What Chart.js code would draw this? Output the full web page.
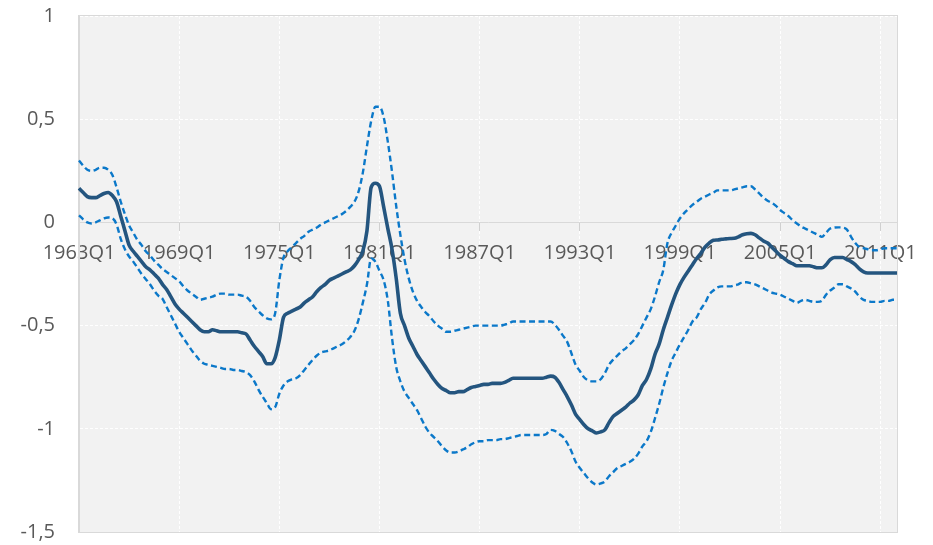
<!DOCTYPE html>
<html>
<head>
<meta charset="utf-8">
<title>Chart</title>
<script src="https://cdn.jsdelivr.net/npm/chart.js@4"></script>
<style>
    html, body { margin: 0; padding: 0; background: #ffffff; }
    #wrap { position: relative; width: 933px; height: 545px; overflow: hidden; }
    /* the canvas is a bit taller than the window so the plot area lands where it should */
    #inner { position: absolute; left: 0; top: -20px; width: 933px; height: 588px; }
</style>
</head>
<body>
<div id="wrap"><div id="inner"><canvas id="chart"></canvas></div></div>
<script>

// quarterly series, 1963Q1 .. 2012Q1 (one row = one year)
const midLine = [
    0.165, 0.145, 0.125, 0.12,
    0.12, 0.13, 0.14, 0.145,
    0.13, 0.10, 0.03, -0.04,
    -0.11, -0.14, -0.165, -0.19,
    -0.215, -0.23, -0.25, -0.27,
    -0.30, -0.325, -0.36, -0.395,
    -0.42, -0.44, -0.46, -0.48,
    -0.50, -0.52, -0.53, -0.53,
    -0.52, -0.525, -0.53, -0.53,
    -0.53, -0.53, -0.53, -0.535,
    -0.54, -0.57, -0.60, -0.625,
    -0.65, -0.685, -0.685, -0.655,
    -0.57, -0.46, -0.44, -0.43,
    -0.42, -0.41, -0.39, -0.375,
    -0.36, -0.335, -0.315, -0.30,
    -0.28, -0.27, -0.26, -0.25,
    -0.24, -0.23, -0.21, -0.18,
    -0.14, -0.04, 0.17, 0.19,
    0.175, 0.075, -0.03, -0.13,
    -0.27, -0.44, -0.50, -0.56,
    -0.60, -0.64, -0.67, -0.70,
    -0.73, -0.76, -0.785, -0.805,
    -0.815, -0.825, -0.825, -0.82,
    -0.82, -0.81, -0.80, -0.795,
    -0.79, -0.785, -0.785, -0.78,
    -0.78, -0.78, -0.775, -0.765,
    -0.755, -0.755, -0.755, -0.755,
    -0.755, -0.755, -0.755, -0.755,
    -0.75, -0.745, -0.75, -0.775,
    -0.81, -0.845, -0.885, -0.93,
    -0.955, -0.98, -1.0, -1.01,
    -1.02, -1.015, -1.005, -0.97,
    -0.94, -0.925, -0.91, -0.895,
    -0.875, -0.86, -0.835, -0.79,
    -0.76, -0.71, -0.64, -0.59,
    -0.52, -0.46, -0.40, -0.345,
    -0.30, -0.265, -0.235, -0.205,
    -0.175, -0.15, -0.12, -0.10,
    -0.087, -0.085, -0.082, -0.08,
    -0.078, -0.077, -0.07, -0.06,
    -0.055, -0.053, -0.06, -0.075,
    -0.09, -0.10, -0.12, -0.14,
    -0.16, -0.175, -0.19, -0.20,
    -0.21, -0.21, -0.21, -0.21,
    -0.215, -0.22, -0.22, -0.205,
    -0.18, -0.17, -0.17, -0.17,
    -0.18, -0.19, -0.205, -0.225,
    -0.24, -0.245, -0.245, -0.245,
    -0.245, -0.245, -0.245, -0.245,
    -0.245
];

const upperBand = [
    0.30, 0.275, 0.255, 0.25,
    0.255, 0.265, 0.265, 0.255,
    0.23, 0.17, 0.10, 0.04,
    -0.015, -0.05, -0.085, -0.11,
    -0.14, -0.16, -0.185, -0.205,
    -0.225, -0.24, -0.255, -0.27,
    -0.285, -0.31, -0.33, -0.345,
    -0.36, -0.375, -0.37, -0.365,
    -0.36, -0.35, -0.345, -0.345,
    -0.35, -0.35, -0.35, -0.355,
    -0.36, -0.38, -0.41, -0.43,
    -0.45, -0.465, -0.47, -0.44,
    -0.28, -0.17, -0.14, -0.12,
    -0.10, -0.08, -0.065, -0.045,
    -0.035, -0.025, -0.01, 0.0,
    0.01, 0.02, 0.03, 0.04,
    0.055, 0.075, 0.10, 0.15,
    0.24, 0.37, 0.49, 0.56,
    0.56, 0.51, 0.39, 0.245,
    0.08, -0.06, -0.18, -0.27,
    -0.335, -0.38, -0.41, -0.435,
    -0.455, -0.48, -0.50, -0.515,
    -0.53, -0.53, -0.525, -0.52,
    -0.515, -0.51, -0.505, -0.50,
    -0.50, -0.50, -0.50, -0.50,
    -0.50, -0.50, -0.495, -0.49,
    -0.48, -0.48, -0.48, -0.48,
    -0.48, -0.48, -0.48, -0.48,
    -0.48, -0.48, -0.495, -0.52,
    -0.55, -0.58, -0.635, -0.69,
    -0.72, -0.75, -0.765, -0.77,
    -0.77, -0.76, -0.73, -0.69,
    -0.665, -0.645, -0.625, -0.61,
    -0.59, -0.57, -0.54, -0.50,
    -0.46, -0.42, -0.36, -0.29,
    -0.23, -0.10, -0.05, -0.015,
    0.02, 0.045, 0.065, 0.085,
    0.10, 0.115, 0.125, 0.135,
    0.145, 0.155, 0.155, 0.155,
    0.155, 0.16, 0.165, 0.17,
    0.175, 0.175, 0.16, 0.14,
    0.12, 0.105, 0.095, 0.08,
    0.06, 0.045, 0.03, 0.01,
    -0.005, -0.02, -0.03, -0.04,
    -0.05, -0.06, -0.07, -0.05,
    -0.03, -0.025, -0.024, -0.025,
    -0.035, -0.07, -0.10, -0.12,
    -0.125, -0.13, -0.135, -0.135,
    -0.13, -0.125, -0.125, -0.125,
    -0.125
];

const lowerBand = [
    0.034, 0.015, 0.0, -0.005,
    0.0, 0.01, 0.02, 0.024,
    0.02, -0.01, -0.08, -0.13,
    -0.165, -0.19, -0.22, -0.25,
    -0.275, -0.30, -0.33, -0.355,
    -0.37, -0.41, -0.45, -0.49,
    -0.53, -0.56, -0.59, -0.62,
    -0.645, -0.67, -0.685, -0.69,
    -0.695, -0.70, -0.705, -0.71,
    -0.71, -0.715, -0.715, -0.72,
    -0.725, -0.74, -0.77, -0.81,
    -0.845, -0.875, -0.905, -0.895,
    -0.83, -0.79, -0.77, -0.76,
    -0.755, -0.74, -0.715, -0.69,
    -0.665, -0.645, -0.63, -0.625,
    -0.62, -0.61, -0.60, -0.59,
    -0.575, -0.555, -0.525, -0.47,
    -0.39, -0.30, -0.175, -0.19,
    -0.235, -0.28, -0.38, -0.56,
    -0.70, -0.77, -0.82, -0.85,
    -0.88, -0.91, -0.95, -0.99,
    -1.02, -1.04, -1.06, -1.085,
    -1.105, -1.115, -1.115, -1.11,
    -1.10, -1.09, -1.075, -1.065,
    -1.06, -1.06, -1.055, -1.055,
    -1.055, -1.05, -1.05, -1.045,
    -1.04, -1.035, -1.03, -1.03,
    -1.03, -1.03, -1.03, -1.03,
    -1.025, -1.005, -1.01, -1.025,
    -1.04, -1.07, -1.11, -1.16,
    -1.19, -1.215, -1.24, -1.26,
    -1.27, -1.265, -1.255, -1.23,
    -1.21, -1.19, -1.18, -1.17,
    -1.16, -1.145, -1.12, -1.085,
    -1.06, -1.015, -0.95, -0.88,
    -0.80, -0.73, -0.67, -0.63,
    -0.59, -0.555, -0.52, -0.48,
    -0.46, -0.42, -0.39, -0.35,
    -0.33, -0.315, -0.31, -0.31,
    -0.31, -0.305, -0.30, -0.29,
    -0.29, -0.295, -0.30, -0.31,
    -0.32, -0.33, -0.34, -0.345,
    -0.35, -0.36, -0.37, -0.38,
    -0.39, -0.38, -0.375, -0.38,
    -0.385, -0.385, -0.38, -0.35,
    -0.33, -0.315, -0.30, -0.30,
    -0.31, -0.32, -0.335, -0.36,
    -0.375, -0.38, -0.385, -0.385,
    -0.385, -0.38, -0.38, -0.375,
    -0.375
];

const firstYear = 1963;
const labelYears = [1963, 1969, 1975, 1981, 1987, 1993, 1999, 2005, 2011];
const yTicks = [-1.5, -1, -0.5, 0, 0.5, 1];

// category labels: 1963Q1, 1963Q2, ...
const quarters = midLine.map((_, i) => `${firstYear + Math.floor(i / 4)}Q${(i % 4) + 1}`);

const isLabelled = i => i % 4 === 0 && labelYears.includes(firstYear + i / 4);

const textColor = "#595959";
const font = { family: "'Open Sans', sans-serif", size: 20 };

// grey plot area with a thin frame
const plotFrame = {
    id: "plotFrame",
    beforeDraw(chart) {
        const { ctx, chartArea: a } = chart;
        ctx.save();
        ctx.fillStyle = "#f2f2f2";
        ctx.fillRect(a.left, a.top, a.right - a.left, a.bottom - a.top);
        ctx.restore();
    },
    beforeDatasetsDraw(chart) {
        const { ctx, chartArea: a } = chart;
        ctx.save();
        ctx.strokeStyle = "#d9d9d9";
        ctx.lineWidth = 1;
        ctx.strokeRect(a.left - 0.5, a.top - 0.5, a.right - a.left + 1, a.bottom - a.top + 1);
        ctx.restore();
    }
};

const band = (data) => ({
    data,
    borderColor: "#0b78c9",
    borderWidth: 2.4,
    borderDash: [6, 3.5],
    pointRadius: 0,
    cubicInterpolationMode: "monotone",
    fill: false
});

new Chart(document.getElementById("chart"), {

    type: "line",

    data: {
        labels: quarters,
        datasets: [
            band(upperBand),
            band(lowerBand),
            {
                data: midLine,
                borderColor: "#24557f",
                borderWidth: 3.6,
                pointRadius: 0,
                cubicInterpolationMode: "monotone",
                fill: false
            }
        ]
    },

    options: {
        responsive: true,
        maintainAspectRatio: false,
        animation: false,
        layout: {
            padding: { top: 0, right: 36, bottom: 0, left: 0 }
        },
        plugins: {
            legend: { display: false },
            tooltip: { enabled: false }
        },
        scales: {
            x: {
                position: { y: 0 },
                offset: false,
                grid: {
                    color: c => (c.index > 0 && c.index % 24 === 0) ? "#ffffff" : "transparent",
                    tickColor: c => (c.index % 24 === 0) ? "#d0d0d0" : "transparent",
                    tickLength: 8,
                    tickBorderDash: [],
                    lineWidth: 1
                },
                border: { color: "#d9d9d9", dash: [3, 2] },
                ticks: {
                    autoSkip: false,
                    maxRotation: 0,
                    minRotation: 0,
                    padding: 11,
                    color: textColor,
                    font,
                    callback(value, index) {
                        return isLabelled(index) ? this.getLabelForValue(value) : "";
                    }
                }
            },
            y: {
                min: -1.5,
                max: 1,
                afterFit(scale) { scale.width = 79; },
                afterBuildTicks(scale) { scale.ticks = yTicks.map(v => ({ value: v })); },
                grid: {
                    color: "#ffffff",
                    drawTicks: false,
                    lineWidth: 1
                },
                border: { color: "#d9d9d9", dash: [3, 2] },
                ticks: {
                    padding: 24,
                    color: textColor,
                    font,
                    callback: v => String(v).replace(".", ",")
                }
            }
        }
    },

    plugins: [plotFrame]

});

</script>
</body>
</html>
